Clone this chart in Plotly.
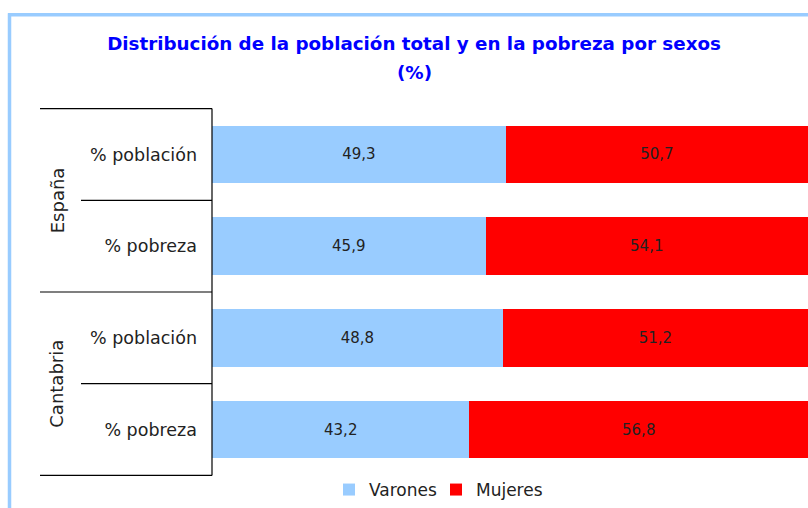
import plotly.graph_objects as go

regions = ["España", "España", "Cantabria", "Cantabria"]
measures = ["% población", "% pobreza", "% población", "% pobreza"]
varones = [49.3, 45.9, 48.8, 43.2]
mujeres = [50.7, 54.1, 51.2, 56.8]
group_labels = ["España", "Cantabria"]

cats = [f"{r} | {m}" for r, m in zip(regions, measures)]

W, H = 808, 508
L, R, T, B = 212, 0, 108, 31
pw = W - L - R
ph = H - T - B

def px2paper(px):
    return (px - L) / pw

def py2paper(py):
    return (H - B - py) / ph

FONT = "DejaVu Sans"
TXT = "#222222"

fig = go.Figure()
fig.add_trace(go.Bar(
    y=cats, x=varones, orientation="h", name="Varones",
    marker=dict(color="#99CCFF", line=dict(width=0)),
    texttemplate="%{x:.1f}", textposition="inside", insidetextanchor="middle",
    textfont=dict(family=FONT, size=15, color=TXT),
))
fig.add_trace(go.Bar(
    y=cats, x=mujeres, orientation="h", name="Mujeres",
    marker=dict(color="#FF0000", line=dict(width=0)),
    texttemplate="%{x:.1f}", textposition="inside", insidetextanchor="middle",
    textfont=dict(family=FONT, size=15, color=TXT),
))

shapes = []
n = len(cats)
for i in range(n + 1):
    yb = i - 0.5
    outer = (i % 2 == 0)
    x0 = px2paper(40) if outer else px2paper(81)
    shapes.append(dict(type="line", xref="paper", yref="y", x0=x0, x1=0,
                       y0=yb, y1=yb, line=dict(color="black", width=1.2)))
shapes.append(dict(type="line", xref="paper", yref="y", x0=0, x1=0,
                   y0=-0.5, y1=n - 0.5, line=dict(color="black", width=1.2)))
# light blue frame
shapes.append(dict(type="line", xref="paper", yref="paper",
                   x0=px2paper(9.5), x1=px2paper(9.5), y0=py2paper(13), y1=py2paper(520),
                   line=dict(color="#99CCFF", width=3.5)))
shapes.append(dict(type="line", xref="paper", yref="paper",
                   x0=px2paper(8), x1=px2paper(820), y0=py2paper(14.5), y1=py2paper(14.5),
                   line=dict(color="#99CCFF", width=3.5)))

annotations = []
for gi, g in enumerate(group_labels):
    annotations.append(dict(text=g, xref="paper", yref="y",
                            x=px2paper(57), y=gi * 2 + 0.5, showarrow=False,
                            textangle=-90, xanchor="center", yanchor="middle",
                            font=dict(family=FONT, size=18, color=TXT)))
annotations.append(dict(text="<b>(%)</b>", xref="paper", yref="paper",
                        x=px2paper(414), y=py2paper(72), showarrow=False,
                        xanchor="center", yanchor="middle",
                        font=dict(family=FONT, size=18.3, color="#0000FF")))

fig.update_layout(
    width=W, height=H,
    margin=dict(l=L, r=R, t=T, b=B),
    paper_bgcolor="white", plot_bgcolor="white",
    barmode="stack", bargap=0.37,
    separators=",.",
    title=dict(text="<b>Distribución de la población total y en la pobreza por sexos</b>",
               x=414 / W, xanchor="center", y=1 - 44 / H, yanchor="middle",
               font=dict(family=FONT, size=18.3, color="#0000FF")),
    xaxis=dict(range=[0, 100], visible=False, fixedrange=True),
    yaxis=dict(type="category", categoryorder="array", categoryarray=cats,
               autorange="reversed", tickvals=cats, ticktext=measures,
               showline=False, showgrid=False, zeroline=False, ticks="",
               ticklabelstandoff=14, fixedrange=True,
               tickfont=dict(family=FONT, size=17.5, color=TXT)),
    legend=dict(orientation="h", x=px2paper(436), xanchor="center",
                y=py2paper(491), yanchor="middle", traceorder="normal",
                font=dict(family=FONT, size=17, color=TXT),
                itemwidth=30, tracegroupgap=0,
                entrywidth=62, entrywidthmode="pixels"),
    shapes=shapes, annotations=annotations,
)

fig.write_html("out.html", config={"displayModeBar": False},
               post_script="document.body.style.margin='0px';")
